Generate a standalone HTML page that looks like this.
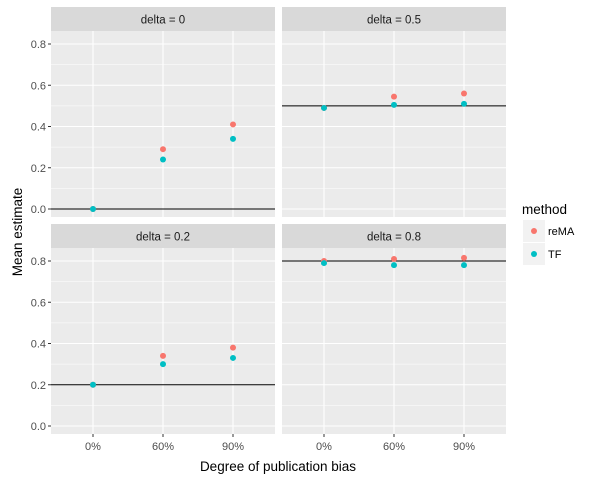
<!DOCTYPE html>
<html><head><meta charset="utf-8"><style>
body{margin:0;background:#fff;}
svg text{font-family:"Liberation Sans",Arial,sans-serif;}
</style></head><body>
<svg id="chart" width="600" height="480" xmlns="http://www.w3.org/2000/svg"></svg>
<script>
const categories = ["0%","60%","90%"];
const panelTitles = ["delta = 0","delta = 0.5","delta = 0.2","delta = 0.8"];
const trueDeltas = [0, 0.5, 0.2, 0.8];
const reMA = [[0,0.29,0.41],[0.49,0.545,0.56],[0.2,0.34,0.38],[0.80,0.81,0.815]];
const TF = [[0,0.24,0.34],[0.49,0.505,0.51],[0.2,0.30,0.33],[0.79,0.78,0.78]];
const yTicks = [0,0.2,0.4,0.6,0.8];
const yTickLabels = ["0.0","0.2","0.4","0.6","0.8"];
const seriesNames = ["reMA","TF"];
const colors = ["#F8766D","#00BFC4"];

const svg = document.getElementById('chart');
const NS = "http://www.w3.org/2000/svg";
function mk(tag, attrs, parent, text){
  const e = document.createElementNS(NS, tag);
  for (const k in attrs) e.setAttribute(k, attrs[k]);
  if (text !== undefined) e.textContent = text;
  (parent||svg).appendChild(e); return e;
}
const panelX = [51, 282], panelW = 224;
const stripY = [7, 224], stripH = 24, panelH = 186;
function xs(i, px){ return px + (i + 1 - 0.4) / 3.2 * panelW; }
function ys(v, py){ return py + 178 - v * 206.25; } // 0 -> py+178

for (let p = 0; p < 4; p++){
  const col = p % 2, row = Math.floor(p / 2);
  const px = panelX[col], sy = stripY[row], py = sy + stripH;
  const g = mk('g', {}, svg);
  
  
  const strip = mk('rect', {x:px, y:sy, width:panelW, height:stripH, fill:'#D9D9D9'}, g);
  
  
  const st = mk('text', {x:px+panelW/2, y:sy+16.5, 'font-size':11.5, 'text-anchor':'middle', fill:'#1A1A1A'}, g, panelTitles[p]);
  
  
  const bg = mk('rect', {x:px, y:py, width:panelW, height:panelH, fill:'#EBEBEB'}, g);
  
  
  for (let v = 0.1; v < 0.86; v += 0.2){
    mk('line', {x1:px, x2:px+panelW, y1:ys(v,py), y2:ys(v,py), stroke:'#fff', 'stroke-width':0.6}, g);
  }
  yTicks.forEach(v => mk('line', {x1:px, x2:px+panelW, y1:ys(v,py), y2:ys(v,py), stroke:'#fff', 'stroke-width':1.1}, g));
  categories.forEach((c,i) => mk('line', {x1:xs(i,px), x2:xs(i,px), y1:py, y2:py+panelH, stroke:'#fff', 'stroke-width':1.1}, g));
  const hl = mk('line', {x1:px, x2:px+panelW, y1:ys(trueDeltas[p],py), y2:ys(trueDeltas[p],py), stroke:'#000', 'stroke-width':1.1}, g);
  
  
  [reMA, TF].forEach((s, si) => {
    s[p].forEach((v, i) => {
      const c = mk('circle', {cx:xs(i,px), cy:ys(v,py), r:3, fill:colors[si]}, g);
      
      
    });
  });
  if (col === 0){
    yTicks.forEach((v, k) => {
      mk('line', {x1:px-3, x2:px, y1:ys(v,py), y2:ys(v,py), stroke:'#333', 'stroke-width':1}, g);
      const t = mk('text', {x:px-5, y:ys(v,py)+4, 'font-size':11, 'text-anchor':'end', fill:'#4D4D4D'}, g, yTickLabels[k]);
      
      
    });
  }
  if (row === 1){
    categories.forEach((c, i) => {
      mk('line', {x1:xs(i,px), x2:xs(i,px), y1:py+panelH, y2:py+panelH+3, stroke:'#333', 'stroke-width':1}, g);
      const t = mk('text', {x:xs(i,px), y:py+panelH+16, 'font-size':11, 'text-anchor':'middle', fill:'#4D4D4D'}, g, c);
      
      
    });
  }
}
const yt = mk('text', {x:0, y:0, 'font-size':13.5, 'text-anchor':'middle', fill:'#000', transform:'translate(22,232) rotate(-90)'}, svg, 'Mean estimate');


const xt = mk('text', {x:278, y:471, 'font-size':13.5, 'text-anchor':'middle', fill:'#000'}, svg, 'Degree of publication bias');


const lg = mk('g', {}, svg);


const ltitle = mk('text', {x:522, y:214, 'font-size':13.5, fill:'#000'}, lg, 'method');


seriesNames.forEach((n, i) => {
  const ky = 220 + i * 23;
  mk('rect', {x:523, y:ky, width:22, height:22, fill:'#F2F2F2'}, lg);
  const c = mk('circle', {cx:534, cy:ky+11, r:3, fill:colors[i]}, lg);
  
  
  const t = mk('text', {x:548, y:ky+15, 'font-size':11, fill:'#000'}, lg, n);
  
  
});
</script>
</body></html>
